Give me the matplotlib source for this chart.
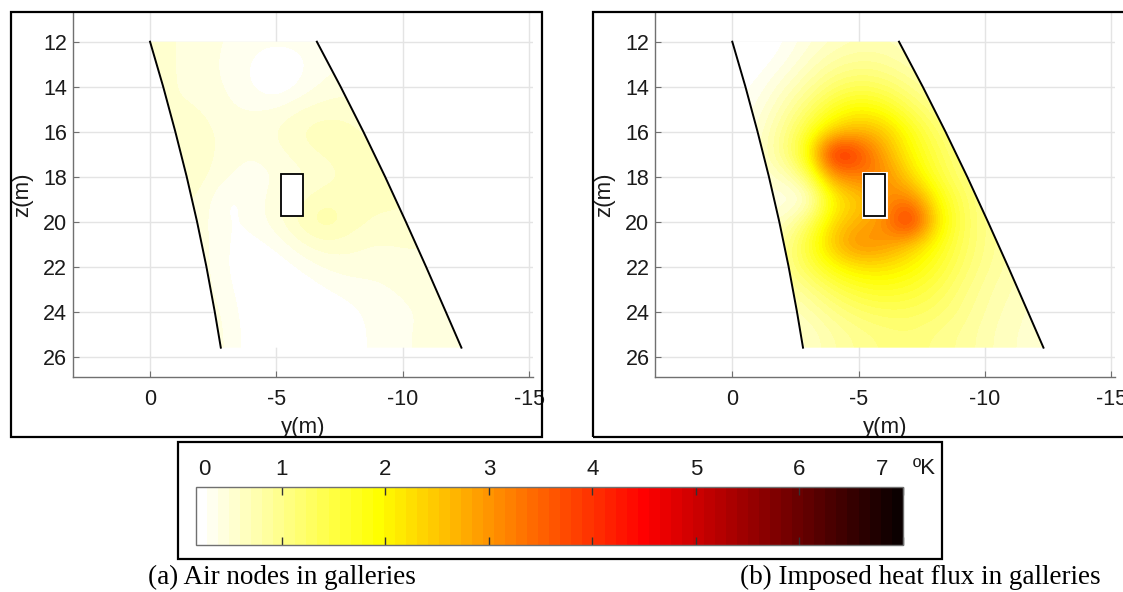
import numpy as np
import matplotlib
matplotlib.use('Agg')
import matplotlib.pyplot as plt
from matplotlib.patches import Polygon, Rectangle

plt.rcParams['font.family'] = 'Liberation Sans'
plt.rcParams['axes.unicode_minus'] = False

# grid nodes of the temperature-rise field (m)
y_nodes = [0, -1, -2, -3, -4, -5, -6, -7, -8, -9, -10, -11, -12, -13]
z_nodes = [12, 13, 14, 15, 16, 17, 18, 19, 20, 21, 22, 23, 24, 25, 26]

# temperature rise (K), one row per z node
dT_air = [
    [0.50, 0.50, 0.45, 0.38, 0.32, 0.32, 0.32, 0.35, 0.35, 0.35, 0.35, 0.35, 0.35, 0.35],
    [0.50, 0.50, 0.45, 0.35, 0.28, 0.14, 0.25, 0.35, 0.40, 0.40, 0.40, 0.40, 0.40, 0.40],
    [0.50, 0.50, 0.45, 0.38, 0.28, 0.14, 0.30, 0.42, 0.45, 0.45, 0.45, 0.45, 0.45, 0.45],
    [0.50, 0.50, 0.50, 0.40, 0.38, 0.40, 0.50, 0.55, 0.55, 0.55, 0.50, 0.50, 0.50, 0.50],
    [0.50, 0.55, 0.55, 0.45, 0.42, 0.50, 0.62, 0.68, 0.62, 0.55, 0.55, 0.50, 0.50, 0.50],
    [0.50, 0.55, 0.55, 0.45, 0.38, 0.45, 0.55, 0.62, 0.66, 0.60, 0.55, 0.50, 0.50, 0.50],
    [0.50, 0.55, 0.55, 0.40, 0.32, 0.38, 0.45, 0.55, 0.62, 0.65, 0.60, 0.55, 0.55, 0.55],
    [0.50, 0.50, 0.50, 0.22, 0.30, 0.45, 0.58, 0.70, 0.62, 0.62, 0.62, 0.55, 0.55, 0.55],
    [0.50, 0.50, 0.45, 0.25, 0.30, 0.45, 0.68, 0.82, 0.66, 0.58, 0.58, 0.55, 0.55, 0.55],
    [0.50, 0.50, 0.45, 0.28, 0.22, 0.30, 0.48, 0.58, 0.52, 0.48, 0.50, 0.50, 0.50, 0.50],
    [0.50, 0.50, 0.45, 0.28, 0.18, 0.18, 0.30, 0.40, 0.45, 0.42, 0.45, 0.45, 0.45, 0.45],
    [0.50, 0.50, 0.45, 0.32, 0.18, 0.14, 0.18, 0.28, 0.32, 0.36, 0.40, 0.45, 0.45, 0.45],
    [0.50, 0.50, 0.45, 0.38, 0.18, 0.10, 0.10, 0.18, 0.26, 0.32, 0.36, 0.40, 0.45, 0.45],
    [0.50, 0.50, 0.45, 0.40, 0.20, 0.10, 0.10, 0.12, 0.18, 0.35, 0.36, 0.42, 0.45, 0.45],
    [0.50, 0.50, 0.45, 0.40, 0.20, 0.10, 0.10, 0.12, 0.18, 0.35, 0.36, 0.42, 0.45, 0.45],
]

dT_flux = [
    [0.15, 0.15, 0.25, 0.45, 0.60, 0.70, 0.70, 0.60, 0.50, 0.45, 0.40, 0.40, 0.40, 0.40],
    [0.15, 0.20, 0.35, 0.60, 0.85, 0.95, 0.90, 0.75, 0.60, 0.50, 0.45, 0.40, 0.40, 0.40],
    [0.20, 0.30, 0.55, 0.85, 1.20, 1.35, 1.25, 1.00, 0.80, 0.65, 0.55, 0.50, 0.45, 0.45],
    [0.25, 0.40, 0.75, 1.20, 1.70, 2.00, 1.80, 1.35, 1.00, 0.80, 0.65, 0.55, 0.50, 0.50],
    [0.30, 0.50, 0.95, 1.60, 2.40, 2.70, 2.50, 1.80, 1.25, 0.95, 0.75, 0.60, 0.55, 0.50],
    [0.35, 0.55, 1.00, 1.90, 4.60, 3.90, 2.80, 2.00, 1.45, 1.05, 0.85, 0.65, 0.55, 0.50],
    [0.35, 0.50, 0.60, 1.20, 3.00, 3.20, 3.20, 2.30, 1.60, 1.15, 0.90, 0.70, 0.60, 0.55],
    [0.35, 0.45, 0.35, 0.40, 2.00, 2.40, 3.00, 3.30, 2.00, 1.35, 0.95, 0.75, 0.60, 0.55],
    [0.40, 0.50, 0.60, 1.20, 2.30, 2.70, 3.00, 4.50, 2.30, 1.40, 1.00, 0.80, 0.65, 0.55],
    [0.45, 0.60, 0.90, 1.60, 2.60, 3.20, 3.00, 2.50, 1.90, 1.35, 1.00, 0.80, 0.65, 0.55],
    [0.45, 0.60, 0.95, 1.40, 1.90, 2.20, 2.20, 2.00, 1.65, 1.25, 0.95, 0.75, 0.65, 0.55],
    [0.40, 0.55, 0.75, 1.00, 1.35, 1.60, 1.70, 1.60, 1.40, 1.10, 0.85, 0.70, 0.60, 0.55],
    [0.35, 0.45, 0.60, 0.75, 1.00, 1.20, 1.30, 1.30, 1.20, 1.00, 0.80, 0.65, 0.55, 0.50],
    [0.30, 0.40, 0.50, 0.60, 0.80, 0.95, 1.05, 1.10, 1.00, 0.90, 0.75, 0.60, 0.55, 0.50],
    [0.30, 0.40, 0.50, 0.60, 0.80, 0.95, 1.05, 1.10, 1.00, 0.90, 0.75, 0.60, 0.55, 0.50],
]

# rock walls bounding the gallery band
wall_z = [12, 14, 16, 18, 20, 22, 24, 25.6]
wall_left_y = [0.0, -0.52, -1.0, -1.45, -1.86, -2.23, -2.56, -2.8]
wall_right_y = [-6.6, -7.54, -8.44, -9.3, -10.12, -10.92, -11.7, -12.32]

# gallery cross-section
gallery_y = (-5.2, -6.05)
gallery_z = (17.9, 19.75)

cb_ticks = [1, 2, 3, 4, 5, 6, 7]
cb_labels = ['1', '2', '3', '4', '5', '6', '']
# end labels sit slightly inside the bar
cb_end_pos = [0.25, 6.8]
cb_end_labels = ['0', '7']
captions = ['(a) Air nodes in galleries', '(b) Imposed heat flux in galleries']

W, H = 1123, 592


def fig_rect(x0, y0, x1, y1):
    # pixel box -> figure fraction
    return [x0 / W, 1 - y1 / H, (x1 - x0) / W, (y1 - y0) / H]


cmap = plt.get_cmap('hot_r', 64)
vmin, vmax = 0.17, 7.0
axis_grey = '#707070'
ink = '#1a1a1a'

fig = plt.figure(figsize=(W / 100, H / 100), dpi=100)


def draw_panel(ax, field, halo):
    ax.set_axisbelow(True)
    ax.grid(True, color='#e4e4e4', lw=1)
    extent = (y_nodes[0] + 0.5, y_nodes[-1] - 0.5, z_nodes[-1] + 0.5, z_nodes[0] - 0.5)
    im = ax.imshow(np.array(field), cmap=cmap, vmin=vmin, vmax=vmax, extent=extent,
                   origin='upper', aspect='auto', interpolation='bicubic', zorder=1)
    band = list(zip(wall_left_y, wall_z)) + list(zip(wall_right_y[::-1], wall_z[::-1]))
    im.set_clip_path(Polygon(band, closed=True, transform=ax.transData))
    ax.plot(wall_left_y, wall_z, color='k', lw=1.4, zorder=3)
    ax.plot(wall_right_y, wall_z, color='k', lw=1.4, zorder=3)
    gy0, gy1 = gallery_y
    gz0, gz1 = gallery_z
    if halo:
        ax.add_patch(Rectangle((gy0, gz0), gy1 - gy0, gz1 - gz0, fill=False,
                               ec='white', lw=3.5, zorder=4))
    ax.add_patch(Rectangle((gy0, gz0), gy1 - gy0, gz1 - gz0, fc='white',
                           ec='k', lw=1.3, zorder=5))
    ax.set_xlim(3.06, -15.14)
    ax.set_ylim(26.89, 10.68)
    ax.set_xticks([0, -5, -10, -15])
    ax.set_yticks(range(12, 27, 2))
    ax.tick_params(direction='in', length=4, color=axis_grey, labelsize=15.5,
                   labelcolor=ink)
    ax.tick_params(axis='x', pad=9)
    ax.tick_params(axis='y', pad=4)
    for s in ['top', 'right']:
        ax.spines[s].set_visible(False)
    for s in ['left', 'bottom']:
        ax.spines[s].set_color(axis_grey)
        ax.spines[s].set_linewidth(1.0)
    ax.set_xlabel('y(m)', fontsize=16, labelpad=5, color=ink)
    ax.set_ylabel('z(m)', fontsize=16, labelpad=7, color=ink)
    return im


ax_a = fig.add_axes(fig_rect(72.7, 12, 532.7, 376.7))
ax_b = fig.add_axes(fig_rect(655, 12, 1114.7, 376.7))
draw_panel(ax_a, dT_air, False)
im_b = draw_panel(ax_b, dT_flux, True)

# frames round each panel and the colour scale
for x0, y0, x1, y1 in [(10.7, 11.7, 542.3, 437.3), (592.7, 11.7, 1135, 437.3),
                       (177.7, 442.3, 942, 559.3)]:
    fig.add_artist(Rectangle((x0 / W, 1 - y1 / H), (x1 - x0) / W, (y1 - y0) / H,
                             transform=fig.transFigure, fill=False, ec='k', lw=1.6))

cax = fig.add_axes(fig_rect(196, 487.3, 902.7, 545))
cb = fig.colorbar(im_b, cax=cax, orientation='horizontal')
cb.set_ticks(cb_ticks, labels=cb_labels)
cax.set_xticks(cb_end_pos, labels=cb_end_labels, minor=True)
cax.tick_params(which='major', top=True, bottom=True, labeltop=True, labelbottom=False,
                direction='in', length=6, width=1, color='#333333', labelsize=16,
                labelcolor=ink, pad=5)
cax.tick_params(which='minor', top=False, bottom=False, labeltop=True, labelbottom=False,
                length=0, labelsize=16, labelcolor=ink, pad=5)
cb.outline.set_edgecolor(axis_grey)
cb.outline.set_linewidth(1.0)
fig.text(924 / W, 1 - 468 / H, 'ºK', fontsize=16, color=ink, ha='center', va='center')

fig.text(281.5 / W, 1 - 577 / H, captions[0], fontsize=19.5, family='Liberation Serif',
         ha='center', va='center')
fig.text(920 / W, 1 - 577 / H, captions[1], fontsize=19.5, family='Liberation Serif',
         ha='center', va='center')

fig.savefig('out.png', dpi=100)
